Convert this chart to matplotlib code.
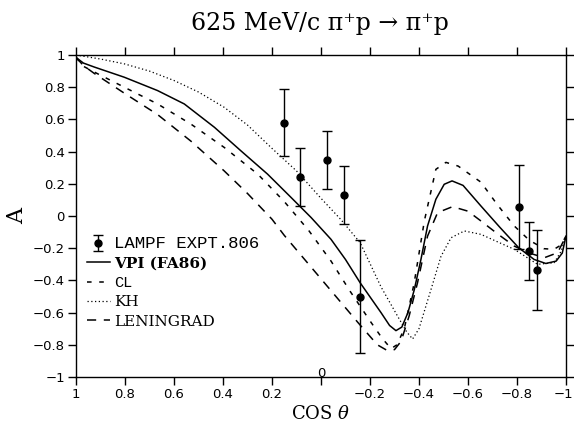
import matplotlib
matplotlib.use("Agg")
import matplotlib.pyplot as plt
import matplotlib.transforms as mtransforms
from matplotlib.legend_handler import HandlerErrorbar

plt.rcParams['mathtext.fontset'] = 'dejavuserif'

# LAMPF EXPT.806 measurements
cos_data = [0.150, 0.084, -0.026, -0.094, -0.160, -0.807, -0.849, -0.883]
a_data = [0.58, 0.24, 0.35, 0.13, -0.50, 0.055, -0.22, -0.335]
a_err = [0.21, 0.18, 0.18, 0.18, 0.35, 0.26, 0.18, 0.25]

# VPI (FA86)
cos_vpi = [1.0, 0.97, 0.925, 0.803, 0.667, 0.558, 0.435, 0.327, 0.218, 0.122,
           0.04, -0.041, -0.10, -0.16, -0.245, -0.28, -0.306, -0.33, -0.355,
           -0.381, -0.408, -0.435, -0.469, -0.503, -0.535, -0.58, -0.653,
           -0.73, -0.807, -0.87, -0.918, -0.96, -0.985, -1.0]
a_vpi = [0.985, 0.95, 0.925, 0.862, 0.779, 0.696, 0.551, 0.405, 0.26, 0.115,
         -0.01, -0.145, -0.27, -0.415, -0.60, -0.68, -0.712, -0.69, -0.60,
         -0.457, -0.27, -0.062, 0.104, 0.197, 0.218, 0.19, 0.062,
         -0.07, -0.197, -0.27, -0.295, -0.28, -0.23, -0.125]

# CL
cos_cl = [1.0, 0.97, 0.911, 0.803, 0.667, 0.531, 0.395, 0.258, 0.15, 0.05,
          -0.041, -0.12, -0.204, -0.25, -0.286, -0.31, -0.34, -0.38, -0.422,
          -0.469, -0.51, -0.56, -0.653, -0.72, -0.789, -0.85, -0.91, -0.951,
          -0.98, -1.0]
a_cl = [0.985, 0.93, 0.883, 0.80, 0.696, 0.571, 0.426, 0.26, 0.09, -0.09,
        -0.28, -0.47, -0.66, -0.76, -0.824, -0.80, -0.70, -0.42, -0.03,
        0.29, 0.333, 0.31, 0.21, 0.07, -0.062, -0.15, -0.203, -0.207,
        -0.18, -0.125]

# KH
cos_kh = [1.0, 0.9, 0.803, 0.7, 0.599, 0.5, 0.395, 0.3, 0.2, 0.1, 0.0, -0.08,
          -0.16, -0.245, -0.313, -0.35, -0.374, -0.40, -0.449, -0.49, -0.531,
          -0.585, -0.653, -0.72, -0.789, -0.884, -0.952, -0.98, -1.0]
a_kh = [1.0, 0.975, 0.945, 0.90, 0.841, 0.77, 0.675, 0.565, 0.42, 0.28, 0.11,
        -0.02, -0.166, -0.44, -0.623, -0.72, -0.764, -0.70, -0.457, -0.25,
        -0.135, -0.093, -0.114, -0.16, -0.207, -0.30, -0.29, -0.22, -0.125]

# LENINGRAD
cos_len = [1.0, 0.97, 0.925, 0.8, 0.667, 0.531, 0.395, 0.3, 0.2, 0.15, 0.05,
           -0.05, -0.15, -0.23, -0.27, -0.30, -0.327, -0.36, -0.394, -0.435,
           -0.476, -0.537, -0.60, -0.653, -0.72, -0.789, -0.85, -0.912,
           -0.966, -1.0]
a_len = [0.985, 0.935, 0.885, 0.76, 0.63, 0.465, 0.28, 0.14, -0.02, -0.12,
         -0.30, -0.48, -0.66, -0.80, -0.835, -0.83, -0.778, -0.62, -0.415,
         -0.125, 0.021, 0.058, 0.03, -0.031, -0.11, -0.187, -0.23, -0.259,
         -0.228, -0.125]

xticks = [1, 0.8, 0.6, 0.4, 0.2, 0, -0.2, -0.4, -0.6, -0.8, -1]
xticklabels = ['1', '0.8', '0.6', '0.4', '0.2', '', '\u22120.2', '\u22120.4',
               '\u22120.6', '\u22120.8', '\u22121']
yticks = [1, 0.8, 0.6, 0.4, 0.2, 0, -0.2, -0.4, -0.6, -0.8, -1]
yticklabels = ['1', '0.8', '0.6', '0.4', '0.2', '0', '\u22120.2', '\u22120.4',
               '\u22120.6', '\u22120.8', '\u22121']

fig = plt.figure(figsize=(5.74, 4.29), dpi=100)
ax = fig.add_axes([0.1324, 0.1212, 0.8536, 0.7506])

eb = ax.errorbar(cos_data, a_data, yerr=a_err, fmt='o', color='black', ms=5,
                 elinewidth=1.0, capsize=3.5, capthick=1.0,
                 label='LAMPF EXPT.806')
l1, = ax.plot(cos_vpi, a_vpi, color='black', lw=1.1, label='VPI (FA86)')
l2, = ax.plot(cos_cl, a_cl, color='black', lw=1.1, dashes=(3, 5), label='CL')
l3, = ax.plot(cos_kh, a_kh, color='black', lw=0.9, dashes=(1, 2),
              label='KH')
l4, = ax.plot(cos_len, a_len, color='black', lw=1.1, dashes=(6, 5),
              label='LENINGRAD')

ax.set_xlim(1, -1)
ax.set_ylim(-1, 1)
ax.set_xticks(xticks)
ax.set_xticklabels(xticklabels, fontsize=9.5)
ax.set_yticks(yticks)
ax.set_yticklabels(yticklabels, fontsize=9.5)
ax.tick_params(direction='out', length=6, width=1, top=True, right=True,
               labeltop=False, labelright=False, pad=2)
for s in ax.spines.values():
    s.set_linewidth(1.0)

# keep the last x tick label inside the figure
last = ax.get_xticklabels()[-1]
last.set_ha('right')
last.set_transform(last.get_transform() +
                   mtransforms.ScaledTranslation(7 / 100, 0, fig.dpi_scale_trans))

ax.text(0, -0.98, '0', ha='center', va='center', fontsize=9.5)

ax.set_xlabel(r'COS $\theta$', family='DejaVu Serif', fontsize=13, labelpad=3)
ax.set_ylabel('A', family='DejaVu Serif', fontsize=16, labelpad=3)
fig.text(0.557, 0.945, '625 MeV/c \u03c0\u207ap \u2192 \u03c0\u207ap',
         family='DejaVu Serif', fontsize=17, ha='center', va='center')

leg = ax.legend(handles=[eb, l1, l2, l3, l4], loc='upper left',
                bbox_to_anchor=(0.0, 0.47), frameon=False, handlelength=1.5,
                handletextpad=0.3, labelspacing=0.35, borderaxespad=0.3,
                fontsize=11,
                handler_map={type(eb): HandlerErrorbar(xerr_size=0.5)})
fonts = ['Liberation Mono', 'DejaVu Serif', 'Liberation Mono', 'DejaVu Serif',
         'DejaVu Serif']
weights = ['normal', 'bold', 'normal', 'normal', 'normal']
for t, f, w in zip(leg.get_texts(), fonts, weights):
    t.set_family(f)
    t.set_weight(w)
leg.get_texts()[0].set_fontsize(12.5)

fig.savefig('out.png', dpi=100)
